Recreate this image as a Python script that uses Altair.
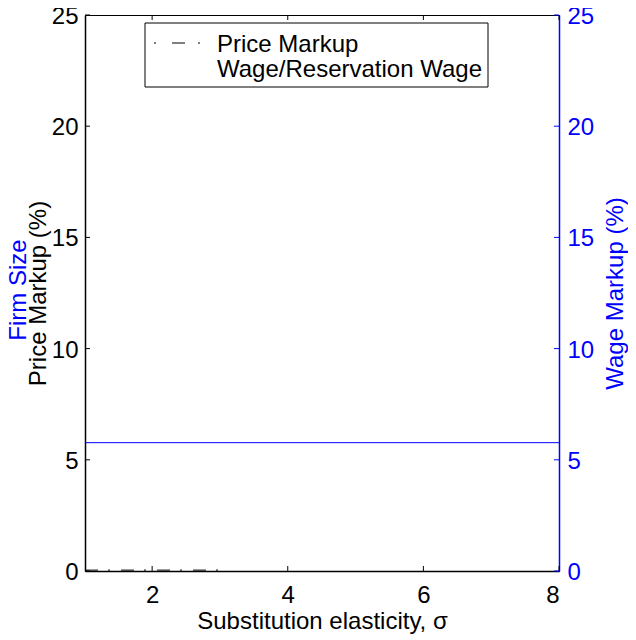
import altair as alt
import pandas as pd

# ---- data ----
x_ticks = [2, 4, 6, 8]
y_ticks = [0, 5, 10, 15, 20, 25]
x_domain = [1.01, 8]
y_domain = [0, 25]
wage_sigma = [1.01, 8.0]
wage_markup = [5.77, 5.77]
price_sigma = [1.01, 1.5, 2.0, 2.5, 3.0]
price_markup = [0.04, 0.04, 0.04, 0.04, 0.04]
legend_labels = ["Price Markup", "Wage/Reservation Wage"]

BLUE = "#0000ff"
FONT = "Liberation Sans"
W, H = 474, 556
FS = 24

price_df = pd.DataFrame({"sigma": price_sigma, "markup": price_markup})
wage_df = pd.DataFrame({"sigma": wage_sigma, "markup": wage_markup})
xt_df = pd.DataFrame({"sigma": x_ticks})
yt_df = pd.DataFrame({"markup": y_ticks})
one = pd.DataFrame({"k": [0]})

xscale = alt.Scale(domain=x_domain, nice=False, zero=False)
yscale_l = alt.Scale(domain=y_domain, nice=False, zero=False)
yscale_r = alt.Scale(domain=y_domain, nice=False, zero=False)

x_axis = alt.Axis(values=x_ticks, ticks=False, tickSize=0, grid=False,
                  domainColor="black", domainWidth=1.5,
                  labelFontSize=FS, labelPadding=12, labelColor="black",
                  title="Substitution elasticity, σ", titleFontSize=FS,
                  titleFontWeight="normal", titleColor="black",
                  titleBaseline="alphabetic", titleAlign="center",
                  titleX=W / 2, titleY=57)
left_axis = alt.Axis(values=y_ticks, orient="left", ticks=False, tickSize=0,
                     grid=False, domainColor="black", domainWidth=1.5,
                     labelFontSize=FS, labelPadding=7, labelColor="black",
                     labelOffset=1.5,
                     title="Price Markup (%)", titleFontSize=FS,
                     titleFontWeight="normal", titleColor="black",
                     titleAngle=270, titleBaseline="alphabetic",
                     titleAlign="center", titleX=-40, titleY=H / 2)
right_axis = alt.Axis(values=y_ticks, orient="right", ticks=False, tickSize=0,
                      grid=False, domainColor=BLUE, domainWidth=1.5,
                      labelFontSize=FS, labelPadding=8, labelColor=BLUE,
                      labelOffset=1.5,
                      title="Wage Markup (%)", titleFontSize=FS,
                      titleFontWeight="normal", titleColor=BLUE,
                      titleAngle=270, titleBaseline="alphabetic",
                      titleAlign="center", titleX=63, titleY=H / 2)


def X():
    return alt.X("sigma:Q", scale=xscale, axis=x_axis)


def YL():
    return alt.Y("markup:Q", scale=yscale_l, axis=left_axis)


def YR():
    return alt.Y("markup:Q", scale=yscale_r, axis=right_axis)


price_line = alt.Chart(price_df).mark_line(
    color="black", strokeWidth=1, strokeDash=[13, 10, 2, 11]
).encode(x=X(), y=YL())

x_ticks_bottom = alt.Chart(xt_df).mark_rule(color="black", strokeWidth=1).encode(
    x=X(), y=alt.value(H), y2=alt.value(H - 5))
x_ticks_top = alt.Chart(xt_df).mark_rule(color="black", strokeWidth=1).encode(
    x=X(), y=alt.value(0), y2=alt.value(5))
y_ticks_left = alt.Chart(yt_df).mark_rule(color="black", strokeWidth=1).encode(
    y=YL(), x=alt.value(0), x2=alt.value(5))

firm_size = alt.Chart(one).mark_text(
    angle=270, align="center", baseline="alphabetic", fontSize=FS,
    color=BLUE, font=FONT
).encode(x=alt.value(-59), y=alt.value(275), text=alt.value("Firm Size"))

legend_box = alt.Chart(one).mark_rect(
    fill="white", stroke="black", strokeWidth=1
).encode(x=alt.value(60), x2=alt.value(403), y=alt.value(8), y2=alt.value(72))
legend_sample = alt.Chart(one).mark_rule(
    color="black", strokeWidth=1, strokeDash=[2, 16, 13, 13]
).encode(x=alt.value(69), x2=alt.value(116), y=alt.value(28))
legend_t1 = alt.Chart(one).mark_text(
    align="left", baseline="alphabetic", fontSize=FS, color="black", font=FONT
).encode(x=alt.value(132), y=alt.value(37), text=alt.value(legend_labels[0]))
legend_t2 = alt.Chart(one).mark_text(
    align="left", baseline="alphabetic", fontSize=FS, color="black", font=FONT
).encode(x=alt.value(132), y=alt.value(62), text=alt.value(legend_labels[1]))

wage_line = alt.Chart(wage_df).mark_line(color=BLUE, strokeWidth=1).encode(
    x=X(), y=YR())
y_ticks_right = alt.Chart(yt_df).mark_rule(color=BLUE, strokeWidth=1).encode(
    y=YR(), x=alt.value(W), x2=alt.value(W - 5))

left = alt.layer(price_line, x_ticks_bottom, x_ticks_top, y_ticks_left,
                 firm_size, legend_box, legend_sample, legend_t1, legend_t2)
right = alt.layer(wage_line, y_ticks_right)

chart = alt.layer(left, right).resolve_scale(y="independent").properties(
    width=W, height=H,
    autosize=alt.AutoSizeParams(type="none"),
    padding={"left": 77, "top": 7, "right": 69, "bottom": 63},
).configure(font=FONT).configure_view(stroke="black", strokeWidth=1)

chart.save("out.html", embed_options={"renderer": "svg", "actions": False})
